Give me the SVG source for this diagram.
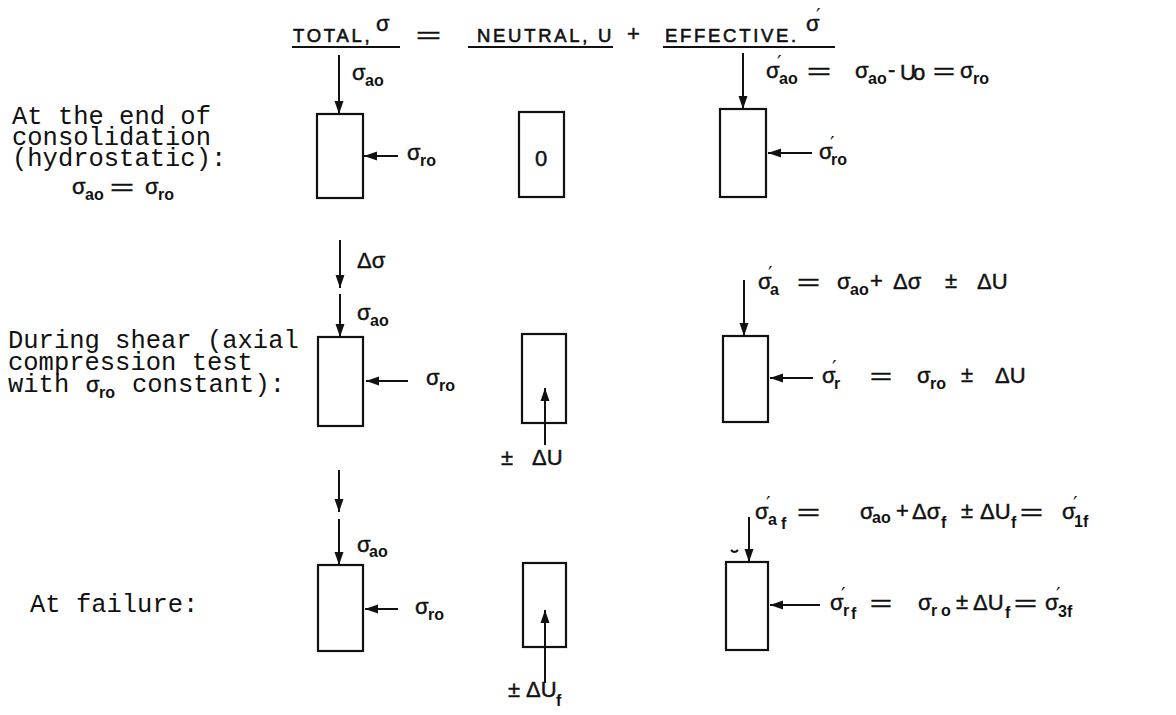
<svg xmlns="http://www.w3.org/2000/svg" width="1176" height="715" viewBox="0 0 1176 715">
<style>
text{fill:#111}
.hdr{font-family:'Liberation Sans',Arial,sans-serif;font-size:18.5px;letter-spacing:2.7px;stroke:#111;stroke-width:0.6}
.mono{font-family:'Liberation Mono','Courier New',monospace;font-size:25.5px}
.m{font-family:'Liberation Sans','DejaVu Sans',sans-serif;font-size:22px;stroke:#111;stroke-width:0.45}
.sb{font-family:'Liberation Sans','DejaVu Sans',sans-serif;font-size:16px;font-weight:bold}
.pr{font-family:'DejaVu Sans','Liberation Sans',sans-serif;font-size:20px}
.eq{font-family:'Liberation Sans',sans-serif;font-size:22px;stroke:#111;stroke-width:0.5}
.box{fill:none;stroke:#111;stroke-width:2.2}
.ul{stroke:#111;stroke-width:2}
.ar{stroke:#111;stroke-width:2;fill:none;marker-end:url(#ah)}
</style>
<defs>
<marker id="ah" markerUnits="userSpaceOnUse" markerWidth="13" markerHeight="10" refX="13" refY="5" orient="auto">
<path d="M0,0.5 L13,5 L0,9.5 z" fill="#111"/>
</marker>
</defs>

<g id="header">
<text class="hdr" x="293" y="42">TOTAL,</text>
<text class="m" x="376" y="31" font-size="18">σ</text>
<line class="ul" x1="292" y1="47" x2="400" y2="47"/>
<text class="eq" x="416" y="43" textLength="25" lengthAdjust="spacingAndGlyphs">=</text>
<text class="hdr" x="477" y="42">NEUTRAL, U</text>
<line class="ul" x1="468" y1="47" x2="613" y2="47"/>
<text class="m" x="627" y="41" font-size="16">+</text>
<text class="hdr" x="665" y="42">EFFECTIVE.</text>
<text class="m" x="806" y="31" font-size="18">σ</text>
<text class="pr" x="816" y="22">′</text>
<line class="ul" x1="663" y1="47" x2="835" y2="47"/>
</g>

<g id="row-labels">
<g id="label-consolidation">
<text class="mono" x="12" y="124">At the end of</text>
<text class="mono" x="12" y="145">consolidation</text>
<text class="mono" x="12" y="166">(hydrostatic):</text>
<text class="m" x="72" y="194">σ</text><text class="sb" x="85" y="200">ao</text>
<text class="eq" x="110" y="195" textLength="24" lengthAdjust="spacingAndGlyphs">=</text>
<text class="m" x="145" y="194">σ</text><text class="sb" x="158" y="200">ro</text>
</g>
<g id="label-shear">
<text class="mono" x="8" y="348">During shear (axial</text>
<text class="mono" x="8" y="370">compression test</text>
<text class="mono" x="8" y="392">with</text>
<text class="m" x="86" y="392">σ</text><text class="sb" x="99" y="398">ro</text>
<text class="mono" x="132" y="392">constant):</text>
</g>
<g id="label-failure">
<text class="mono" x="30" y="612">At failure:</text>
</g>
</g>

<g id="boxes">
<rect id="total-1" class="box" x="317" y="114" width="46" height="84"/>
<g id="neutral-1"><rect class="box" x="519" y="112" width="45" height="85"/><text class="m" x="541" y="166" font-size="19" text-anchor="middle">0</text></g>
<rect id="effective-1" class="box" x="720" y="109" width="46" height="88"/>
<rect id="total-2" class="box" x="318" y="337" width="45" height="89"/>
<rect id="neutral-2" class="box" x="522" y="334" width="44" height="89"/>
<rect id="effective-2" class="box" x="723" y="336" width="45" height="86"/>
<rect id="total-3" class="box" x="318" y="565" width="45" height="86"/>
<rect id="neutral-3" class="box" x="523" y="563" width="43" height="84"/>
<rect id="effective-3" class="box" x="726" y="562" width="42" height="88"/>
<path d="M731,550 q3.5,4 7,0" fill="none" stroke="#111" stroke-width="2"/>
</g>

<g id="connectors">
<line class="ar" x1="339" y1="55" x2="339" y2="114"/>
<line class="ar" x1="398" y1="156" x2="364" y2="156"/>
<line class="ar" x1="743" y1="53" x2="743" y2="109"/>
<line class="ar" x1="812" y1="153" x2="768" y2="153"/>
<line class="ar" x1="340" y1="240" x2="340" y2="288"/>
<line class="ar" x1="340" y1="294" x2="340" y2="337"/>
<line class="ar" x1="408" y1="381" x2="366" y2="381"/>
<line class="ar" x1="545" y1="445" x2="545" y2="388"/>
<line class="ar" x1="744" y1="280" x2="744" y2="336"/>
<line class="ar" x1="813" y1="378" x2="770" y2="378"/>
<line class="ar" x1="339" y1="470" x2="339" y2="512"/>
<line class="ar" x1="339" y1="519" x2="339" y2="565"/>
<line class="ar" x1="398" y1="609" x2="365" y2="609"/>
<line class="ar" x1="545" y1="683" x2="545" y2="610"/>
<line class="ar" x1="749" y1="517" x2="749" y2="562"/>
<line class="ar" x1="820" y1="605" x2="770" y2="605"/>
</g>

<g id="labels-row1">
<text class="m" x="352" y="80">σ</text><text class="sb" x="365" y="86">ao</text>
<text class="m" x="407" y="160">σ</text><text class="sb" x="420" y="166">ro</text>
<text class="m" x="819" y="159">σ</text><text class="pr" x="830" y="150">′</text><text class="sb" x="831" y="165">ro</text>
<text class="m" x="766" y="78">σ</text><text class="pr" x="777" y="69">′</text><text class="sb" x="779" y="84">ao</text>
<text class="eq" x="807" y="79" textLength="24" lengthAdjust="spacingAndGlyphs">=</text>
<text class="m" x="855" y="78">σ</text><text class="sb" x="868" y="84">ao</text>
<text class="m" x="888" y="77" font-size="18">-</text>
<text class="m" x="900" y="80" font-size="17">U</text><text class="m" x="913" y="80" font-size="12">o</text>
<text class="eq" x="933" y="79" textLength="22" lengthAdjust="spacingAndGlyphs">=</text>
<text class="m" x="960" y="78">σ</text><text class="sb" x="973" y="84">ro</text>
</g>

<g id="labels-row2">
<text class="m" x="357" y="268" font-size="21">Δσ</text>
<text class="m" x="357" y="320">σ</text><text class="sb" x="370" y="326">ao</text>
<text class="m" x="426" y="385">σ</text><text class="sb" x="439" y="391">ro</text>
<text class="m" x="501" y="465" font-size="18">±</text><text class="m" x="532" y="465" font-size="20">ΔU</text>
<text class="m" x="758" y="289">σ</text><text class="pr" x="768" y="280">′</text><text class="sb" x="770" y="295">a</text>
<text class="eq" x="797" y="290" textLength="23" lengthAdjust="spacingAndGlyphs">=</text>
<text class="m" x="837" y="289">σ</text><text class="sb" x="850" y="295">ao</text>
<text class="m" x="870" y="288" font-size="16">+</text>
<text class="m" x="893" y="289" font-size="21">Δσ</text>
<text class="m" x="945" y="288" font-size="18">±</text>
<text class="m" x="977" y="289" font-size="21">ΔU</text>
<text class="m" x="822" y="383">σ</text><text class="pr" x="832" y="374">′</text><text class="sb" x="834" y="389">r</text>
<text class="eq" x="870" y="384" textLength="22" lengthAdjust="spacingAndGlyphs">=</text>
<text class="m" x="917" y="383">σ</text><text class="sb" x="930" y="389">ro</text>
<text class="m" x="961" y="382" font-size="18">±</text>
<text class="m" x="995" y="383" font-size="21">ΔU</text>
</g>

<g id="labels-row3">
<text class="m" x="357" y="552">σ</text><text class="sb" x="369" y="557">ao</text>
<text class="m" x="415" y="614">σ</text><text class="sb" x="428" y="620">ro</text>
<text class="m" x="508" y="697" font-size="18">±</text><text class="m" x="526" y="697" font-size="20">ΔU</text><text class="sb" x="556" y="706">f</text>
<text class="m" x="755" y="519">σ</text><text class="pr" x="766" y="510">′</text><text class="sb" x="768" y="525">a</text><text class="sb" x="781" y="529">f</text>
<text class="eq" x="797" y="520" textLength="23" lengthAdjust="spacingAndGlyphs">=</text>
<text class="m" x="860" y="519" font-size="20">σ</text><text class="sb" x="872" y="523" font-size="14">ao</text>
<text class="m" x="896" y="518" font-size="16">+</text>
<text class="m" x="912" y="519" font-size="21">Δσ</text><text class="sb" x="941" y="528">f</text>
<text class="m" x="961" y="518" font-size="18">±</text>
<text class="m" x="980" y="519" font-size="21">ΔU</text><text class="sb" x="1011" y="528">f</text>
<text class="eq" x="1020" y="520" textLength="23" lengthAdjust="spacingAndGlyphs">=</text>
<text class="m" x="1062" y="519">σ</text><text class="pr" x="1073" y="510">′</text><text class="sb" x="1074" y="527">1f</text>
<text class="m" x="830" y="610">σ</text><text class="pr" x="841" y="601">′</text><text class="sb" x="843" y="616">r</text><text class="sb" x="851" y="619">f</text>
<text class="eq" x="870" y="611" textLength="22" lengthAdjust="spacingAndGlyphs">=</text>
<text class="m" x="918" y="610">σ</text><text class="sb" x="931" y="616">r</text><text class="sb" x="941" y="616">o</text>
<text class="m" x="956" y="609" font-size="18">±</text>
<text class="m" x="973" y="610" font-size="21">ΔU</text><text class="sb" x="1005" y="618">f</text>
<text class="eq" x="1014" y="611" textLength="23" lengthAdjust="spacingAndGlyphs">=</text>
<text class="m" x="1045" y="610">σ</text><text class="pr" x="1056" y="601">′</text><text class="sb" x="1058" y="617">3f</text>
</g>
</svg>
